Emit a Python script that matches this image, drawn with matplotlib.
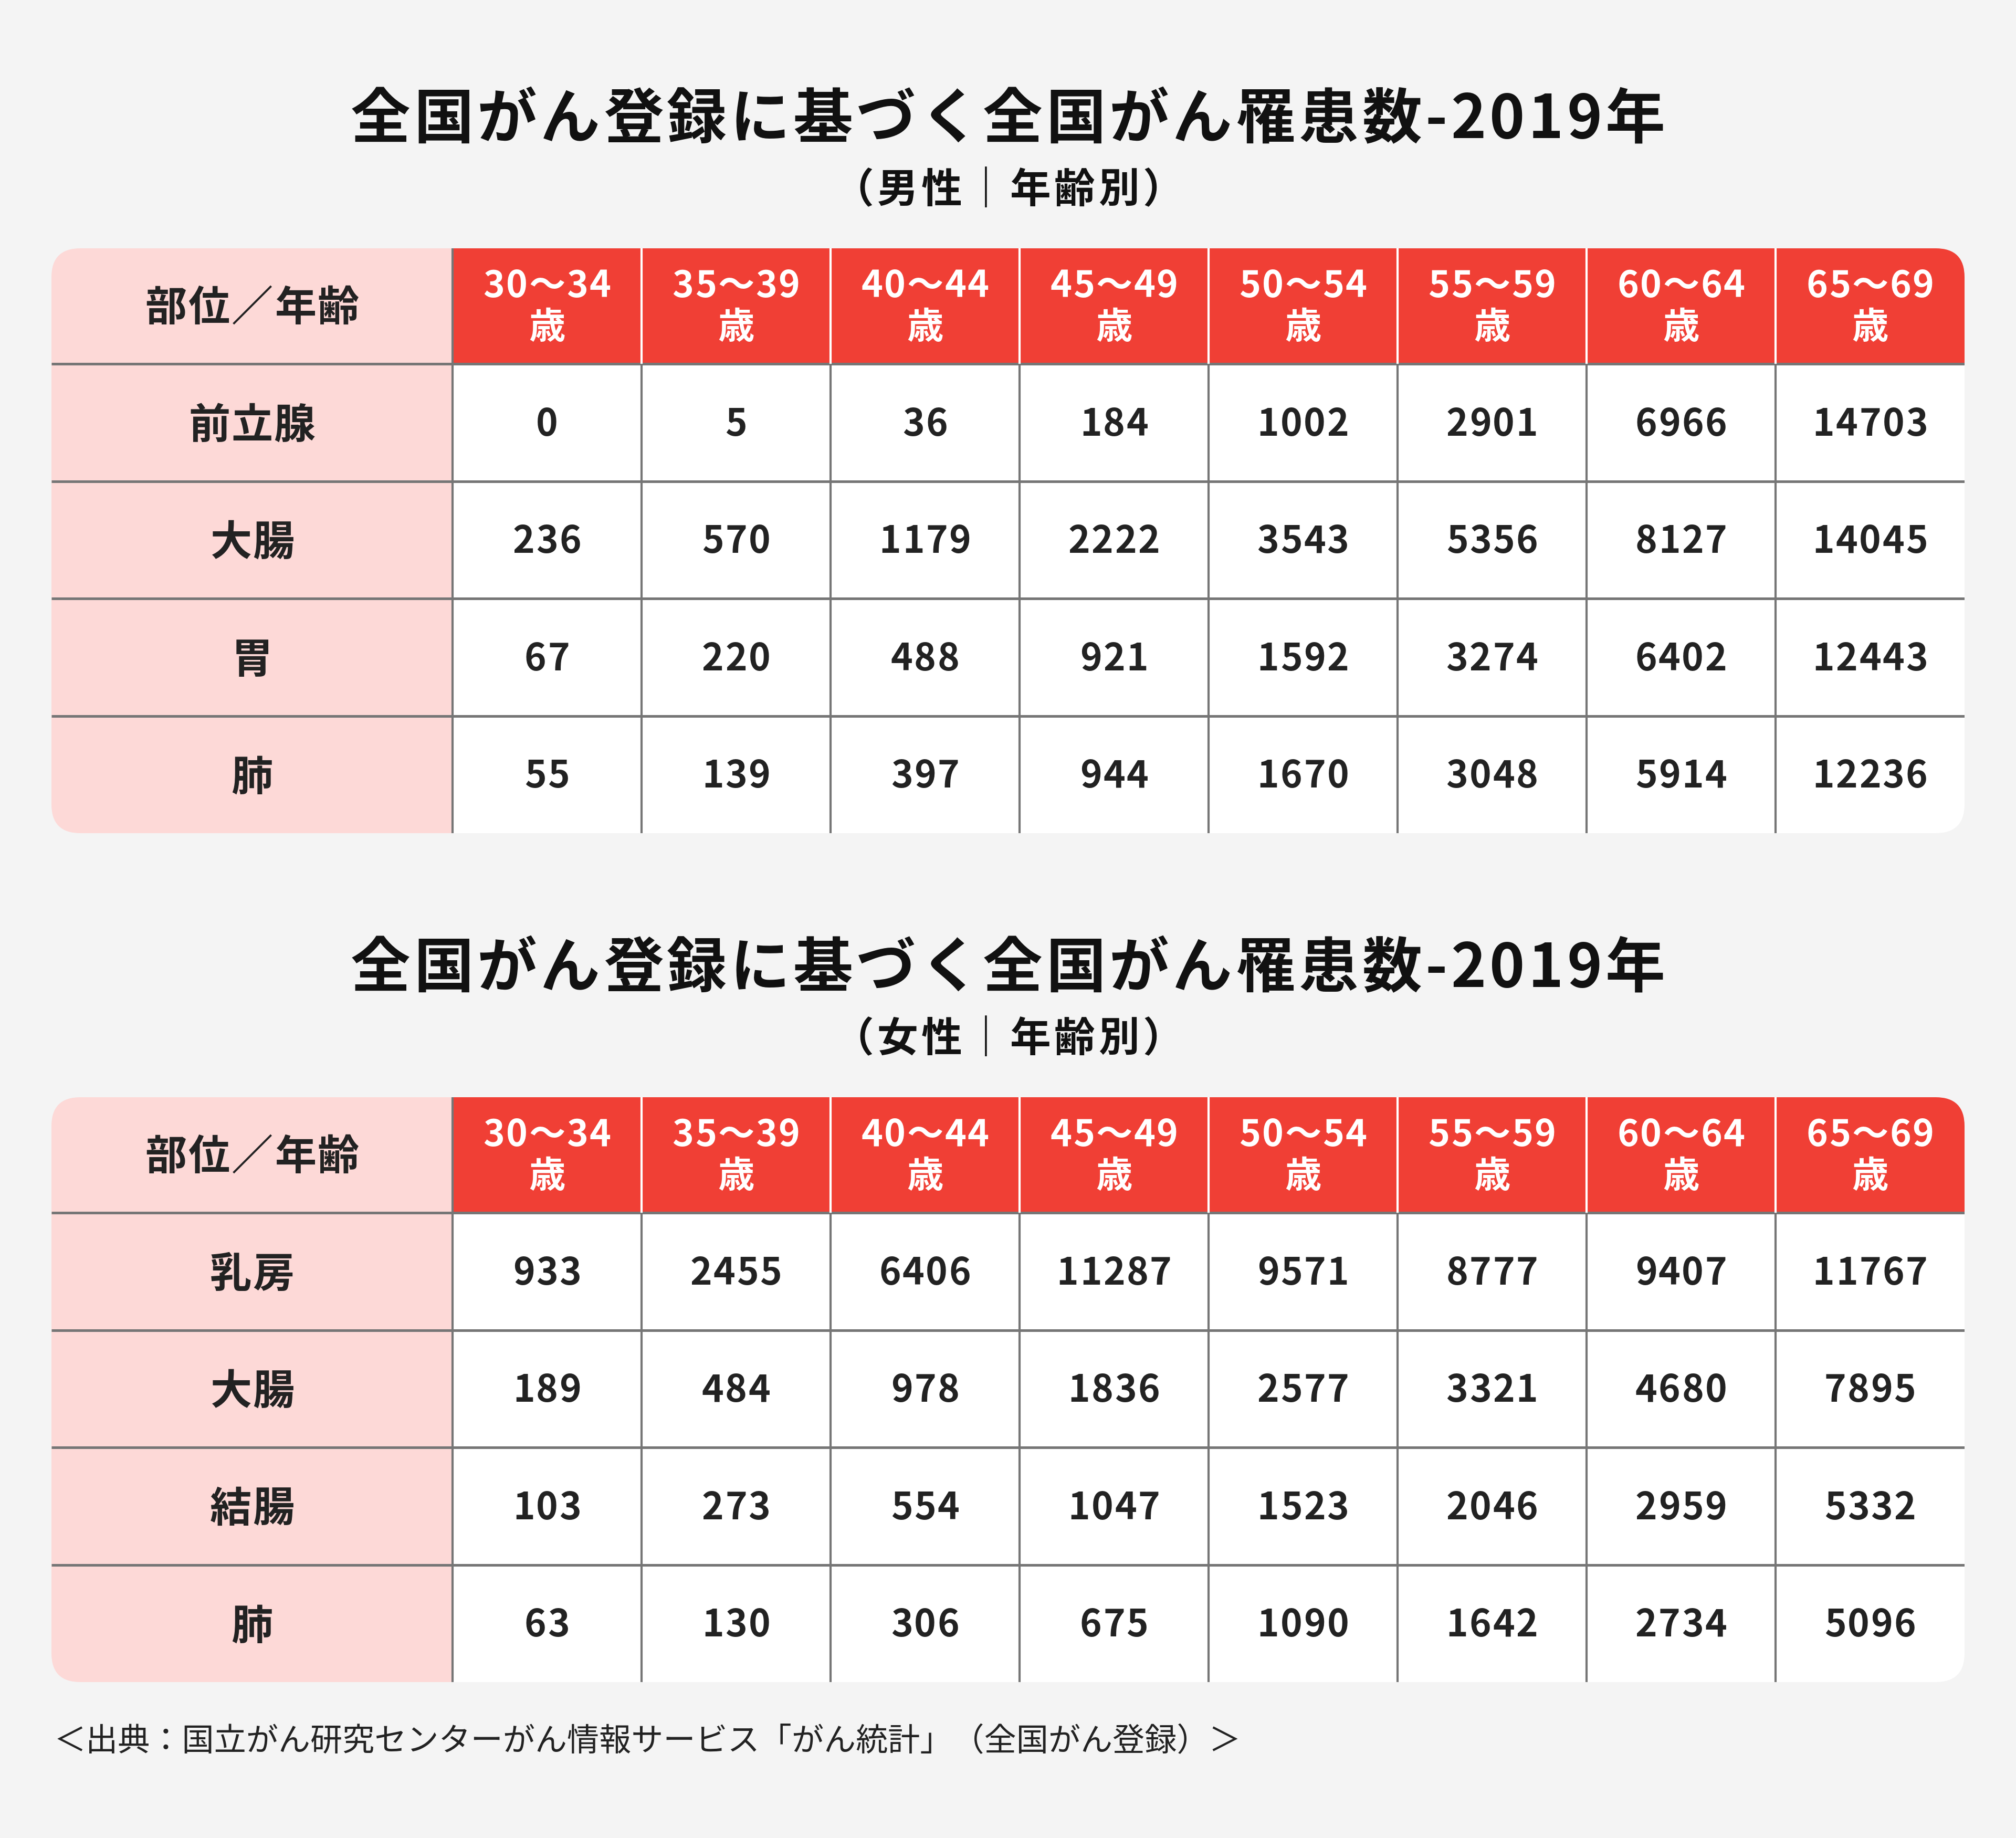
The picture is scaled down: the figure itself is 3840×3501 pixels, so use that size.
import matplotlib.pyplot as plt
from matplotlib.patches import Rectangle, FancyBboxPatch
from matplotlib.font_manager import FontProperties, findfont, get_font


FAMILY = ['Noto Sans CJK JP', 'DejaVu Sans']
plt.rcParams['font.family'] = FAMILY

TITLE = "全国がん登録に基づく全国がん罹患数-2019年"
SUB_MALE = "（男性｜年齢別）"
SUB_FEMALE = "（女性｜年齢別）"
CORNER_LABEL = "部位／年齢"
SOURCE = "＜出典：国立がん研究センターがん情報サービス「がん統計」（全国がん登録）＞"

age_groups = ["30～34", "35～39", "40～44", "45～49",
              "50～54", "55～59", "60～64", "65～69"]
age_unit = "歳"

male_sites = ["前立腺", "大腸", "胃", "肺"]
male_counts = [
    [0, 5, 36, 184, 1002, 2901, 6966, 14703],
    [236, 570, 1179, 2222, 3543, 5356, 8127, 14045],
    [67, 220, 488, 921, 1592, 3274, 6402, 12443],
    [55, 139, 397, 944, 1670, 3048, 5914, 12236],
]

female_sites = ["乳房", "大腸", "結腸", "肺"]
female_counts = [
    [933, 2455, 6406, 11287, 9571, 8777, 9407, 11767],
    [189, 484, 978, 1836, 2577, 3321, 4680, 7895],
    [103, 273, 554, 1047, 1523, 2046, 2959, 5332],
    [63, 130, 306, 675, 1090, 1642, 2734, 5096],
]

# colours
BG = "#f4f4f4"
RED = "#f03f35"
PINK = "#fdd9d7"
GRID = "#767676"
INK = "#222222"

# layout, in pixels of the 3840x3501 canvas
DPI = 100
W, H = 3840, 3501
LEFT, RIGHT = 98, 3742
FIRST_COL = 764
HEAD_H = 220
ROW_H = 223.5
RADIUS = 55
BLOCK_SHIFT = 1617  # vertical offset of the second (female) block


def tracked_text(ax, x, y, s, size, tracking=0.0, weight="normal",
                 color=INK, ha="center"):
    # text on a baseline with extra letter spacing (pixels)
    prop = FontProperties(family=FAMILY, size=size, weight=weight)
    font = get_font(findfont(prop))
    font.set_size(size, DPI)
    advs = [font.load_char(ord(ch)).linearHoriAdvance / 65536 for ch in s]
    total = sum(advs) + tracking * (len(s) - 1)
    pen = x - total / 2 if ha == "center" else x
    for ch, adv in zip(s, advs):
        ax.text(pen, y, ch, ha="left", va="baseline", fontproperties=prop,
                color=color)
        pen += adv + tracking


def draw_table(ax, top, sites, counts):
    n_rows = len(sites)
    n_cols = len(age_groups)
    col_w = (RIGHT - LEFT - FIRST_COL) / n_cols
    x0 = LEFT + FIRST_COL
    height = HEAD_H + n_rows * ROW_H

    clip = FancyBboxPatch((LEFT, top), RIGHT - LEFT, height,
                          boxstyle=f"round,pad=0,rounding_size={RADIUS}",
                          facecolor="none", edgecolor="none")
    ax.add_patch(clip)

    patches = [
        Rectangle((LEFT, top), FIRST_COL, height, facecolor=PINK, edgecolor="none"),
        Rectangle((x0, top), RIGHT - x0, HEAD_H, facecolor=RED, edgecolor="none"),
        Rectangle((x0, top + HEAD_H), RIGHT - x0, n_rows * ROW_H,
                  facecolor="white", edgecolor="none"),
    ]
    for p in patches:
        ax.add_patch(p)
        p.set_clip_path(clip)

    lines = []
    for r in range(n_rows):
        y = top + HEAD_H + r * ROW_H
        lines += ax.plot([LEFT, RIGHT], [y, y], color=GRID, lw=3.6,
                         solid_capstyle="butt")
    lines += ax.plot([x0, x0], [top, top + height], color=GRID, lw=3.0,
                     solid_capstyle="butt")
    for c in range(1, n_cols):
        x = x0 + c * col_w
        lines += ax.plot([x, x], [top, top + HEAD_H], color="white", lw=3.0,
                         solid_capstyle="butt")
        lines += ax.plot([x, x], [top + HEAD_H, top + height], color=GRID,
                         lw=3.0, solid_capstyle="butt")
    for ln in lines:
        ln.set_clip_path(clip)

    label_x = LEFT + FIRST_COL / 2
    tracked_text(ax, label_x, top + 138, CORNER_LABEL, 57, 3, weight="bold")
    for c, age in enumerate(age_groups):
        cx = x0 + (c + 0.5) * col_w
        tracked_text(ax, cx, top + 93, age, 50, 2.5, weight="bold", color="white")
        tracked_text(ax, cx, top + 172, age_unit, 50, weight="bold", color="white")

    for r, site in enumerate(sites):
        cy = top + HEAD_H + (r + 0.5) * ROW_H
        tracked_text(ax, label_x, cy + 30, site, 57, 2, weight="bold")
        for c, val in enumerate(counts[r]):
            cx = x0 + (c + 0.5) * col_w
            tracked_text(ax, cx, cy + 25, str(val), 51, 2.5, weight="bold")


fig = plt.figure(figsize=(W / DPI, H / DPI), dpi=DPI, facecolor=BG)
ax = fig.add_axes([0, 0, 1, 1])
ax.set_xlim(0, W)
ax.set_ylim(H, 0)
ax.axis("off")
ax.set_facecolor(BG)

for shift, sub, sites, counts in [(0, SUB_MALE, male_sites, male_counts),
                                  (BLOCK_SHIFT, SUB_FEMALE, female_sites, female_counts)]:
    tracked_text(ax, W / 2, 263 + shift, TITLE, 82, 6.5, weight="bold",
                 color="#111111")
    tracked_text(ax, W / 2, 386 + shift, sub, 56, 6.5, weight="bold",
                 color="#111111")
    draw_table(ax, 473 + shift, sites, counts)

ax.text(103, 3318, SOURCE, ha="left", va="center", fontsize=44, color=INK)

fig.savefig("out.png", dpi=DPI, facecolor=BG)
